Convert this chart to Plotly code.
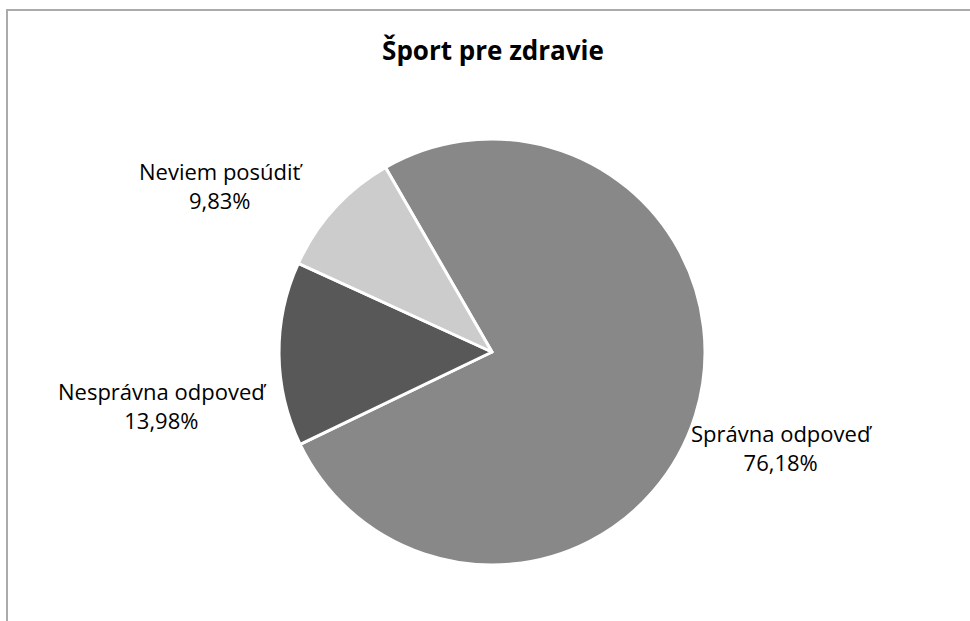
import plotly.graph_objects as go

# Survey answers and their shares (percent)
labels = ["Správna odpoveď", "Nesprávna odpoveď", "Neviem posúdiť"]
values = [76.18, 13.98, 9.83]
colors = ["#888888", "#585858", "#cccccc"]
title = "Šport pre zdravie"

W, H = 970, 621
cx, cy, r = 492, 352, 213  # pie centre and radius in pixels
FONT = "'Open Sans', Lato, sans-serif"


def px(x):
    return x / W


def py(y):
    return 1 - y / H


fig = go.Figure(
    go.Pie(
        labels=labels,
        values=values,
        sort=False,
        direction="clockwise",
        rotation=-30,
        marker=dict(colors=colors, line=dict(color="white", width=3)),
        textinfo="none",
        hoverinfo="label+percent",
        showlegend=False,
        domain=dict(x=[px(cx - r), px(cx + r)], y=[py(cy + r), py(cy - r)]),
    )
)

# Data labels: name and share with a decimal comma
label_pos = {
    "Správna odpoveď": (781, 447),
    "Nesprávna odpoveď": (162, 405),
    "Neviem posúdiť": (221, 185),
}
for name, val in zip(labels, values):
    x, y = label_pos[name]
    fig.add_annotation(
        x=px(x), y=py(y), xref="paper", yref="paper",
        text=f"{name}<br>{val:.2f}%".replace(".", ","),
        showarrow=False, align="center",
        font=dict(family=FONT, size=22, color="#000000"),
        xanchor="center", yanchor="middle",
    )

# Chart-area border
fig.add_shape(
    type="rect", xref="paper", yref="paper",
    x0=px(7), x1=px(W + 20), y0=py(H + 20), y1=py(10),
    line=dict(color="#ababab", width=2), fillcolor="rgba(0,0,0,0)",
    layer="below",
)

fig.update_layout(
    width=W, height=H,
    margin=dict(l=0, r=0, t=0, b=0),
    paper_bgcolor="white", plot_bgcolor="white",
    title=dict(
        text=f"<b>{title}</b>",
        x=px(493), y=py(51), xanchor="center", yanchor="middle",
        font=dict(family=FONT, size=26, color="#000000"),
    ),
)

fig.write_html("out.html")
